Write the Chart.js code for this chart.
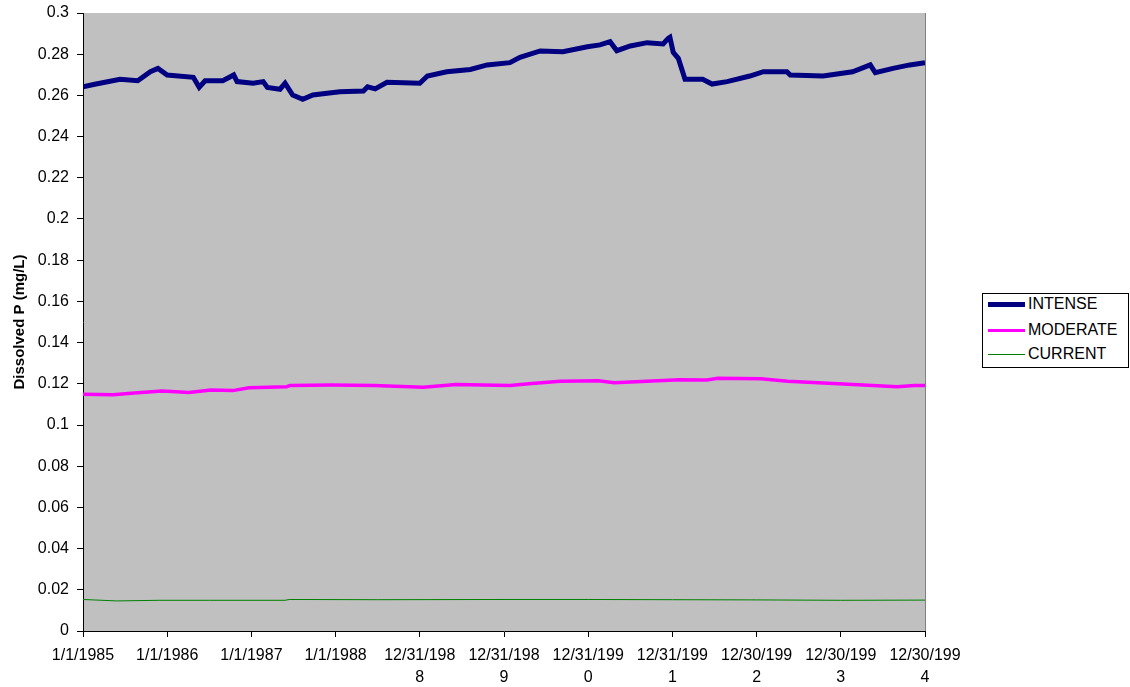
<!DOCTYPE html>
<html>
<head>
<meta charset="utf-8">
<script src="https://cdn.jsdelivr.net/npm/chart.js@4/dist/chart.umd.min.js"></script>
<style>
  html, body { margin: 0; padding: 0; background: #fff; }
  #wrap { position: relative; width: 1130px; height: 687px; }
  #legend {
    position: absolute; left: 982px; top: 293px; width: 145px; height: 73px;
    border: 1px solid #000; background: #fff;
    font-family: "Liberation Sans", Arial, sans-serif; font-size: 16px; color: #000;
  }
  .row { position: absolute; left: 0; height: 20px; display: flex; align-items: center; }
  .sw { width: 37px; margin-left: 5px; margin-right: 3px; }
</style>
</head>
<body>
<div id="wrap">
  <canvas id="c" width="1130" height="687"></canvas>
  <div id="legend"></div>
</div>
<script>
// X positions are years elapsed since 1/1/1985
const tickLabels = ["1/1/1985", "1/1/1986", "1/1/1987", "1/1/1988",
  ["12/31/198", "8"], ["12/31/198", "9"], ["12/31/199", "0"], ["12/31/199", "1"],
  ["12/30/199", "2"], ["12/30/199", "3"], ["12/30/199", "4"]];

const intenseX = [0, 0.14, 0.44, 0.65, 0.80, 0.89, 1.00, 1.31, 1.38, 1.45, 1.66, 1.79, 1.83, 2.02, 2.14, 2.19,
  2.34, 2.40, 2.49, 2.61, 2.73, 2.90, 3.05, 3.33, 3.38, 3.47, 3.61, 4.00, 4.09, 4.32, 4.60, 4.80, 5.07, 5.19,
  5.43, 5.70, 5.99, 6.14, 6.26, 6.34, 6.50, 6.70, 6.89, 6.95, 6.97, 7.01, 7.07, 7.15, 7.36, 7.47, 7.65, 7.92,
  8.08, 8.36, 8.40, 8.79, 9.14, 9.35, 9.41, 9.62, 9.82, 10.00];
const intenseY = [0.2642, 0.2654, 0.2678, 0.2671, 0.2715, 0.2731, 0.2699, 0.2688, 0.2639, 0.2671, 0.2671, 0.2699,
  0.2667, 0.2659, 0.2667, 0.2639, 0.2630, 0.2659, 0.2602, 0.2581, 0.2602, 0.2610, 0.2618, 0.2621, 0.2642, 0.2632,
  0.2664, 0.2659, 0.2694, 0.2715, 0.2726, 0.2748, 0.2759, 0.2785, 0.2816, 0.2812, 0.2836, 0.2845, 0.2861, 0.2817,
  0.2840, 0.2856, 0.2850, 0.2877, 0.2882, 0.2809, 0.2780, 0.2678, 0.2678, 0.2655, 0.2667, 0.2694, 0.2715, 0.2715,
  0.2699, 0.2694, 0.2715, 0.2748, 0.2710, 0.2731, 0.2748, 0.2759];

const moderateX = [0, 0.36, 0.61, 0.94, 1.26, 1.52, 1.78, 1.97, 2.42, 2.46, 2.95, 3.46, 4.04, 4.43, 5.07, 5.33,
  5.67, 6.12, 6.31, 6.76, 7.08, 7.41, 7.54, 8.05, 8.37, 9.03, 9.67, 9.87, 10.00];
const moderateY = [0.1149, 0.1147, 0.1155, 0.1165, 0.1158, 0.1170, 0.1167, 0.1181, 0.1186, 0.1192, 0.1194, 0.1192,
  0.1183, 0.1196, 0.1192, 0.1202, 0.1212, 0.1215, 0.1205, 0.1213, 0.1220, 0.1218, 0.1227, 0.1224, 0.1212, 0.1199,
  0.1186, 0.1192, 0.1192];

const currentX = [0, 0.4, 0.9, 1.5, 2.4, 2.45, 3.5, 5.0, 6.0, 7.0, 8.0, 9.0, 10.0];
const currentY = [0.0153, 0.0146, 0.0149, 0.0149, 0.0149, 0.0153, 0.0152, 0.0153, 0.0153, 0.0152, 0.0151, 0.0149, 0.0150];

const seriesNames = ["INTENSE", "MODERATE", "CURRENT"];
const seriesColors = ["#000080", "#FF00FF", "#008000"];
const seriesWidths = [5, 3.5, 1];

function pts(xs, ys) { return xs.map((x, i) => ({ x: x, y: ys[i] })); }

const FONT = '"Liberation Sans", Arial, sans-serif';

const bgPlugin = {
  id: 'plotBg',
  beforeDraw(chart) {
    const { ctx, chartArea: a } = chart;
    ctx.save();
    ctx.fillStyle = '#C0C0C0';
    ctx.fillRect(a.left, a.top, a.right - a.left, a.bottom - a.top);
    ctx.strokeStyle = '#808080';
    ctx.lineWidth = 1;
    ctx.beginPath();
    ctx.moveTo(a.right + 0.5, a.top);
    ctx.lineTo(a.right + 0.5, a.bottom);
    ctx.stroke();
    ctx.restore();
  }
};

const seriesData = [pts(intenseX, intenseY), pts(moderateX, moderateY), pts(currentX, currentY)];

new Chart(document.getElementById('c'), {
  type: 'line',
  data: {
    datasets: seriesNames.map((n, i) => ({
      label: n,
      data: seriesData[i],
      borderColor: seriesColors[i],
      backgroundColor: seriesColors[i],
      borderWidth: seriesWidths[i],
      pointRadius: 0,
      tension: 0,
      fill: false
    })).reverse()
  },
  options: {
    responsive: false,
    animation: false,
    layout: { padding: { top: 13, right: 205, left: 0, bottom: 0 } },
    plugins: { legend: { display: false }, tooltip: { enabled: false } },
    scales: {
      x: {
        type: 'linear', min: 0, max: 10,
        afterFit(s) { s.height = 56; s.paddingLeft = 0; s.paddingRight = 0; },
        afterBuildTicks(s) { s.ticks = tickLabels.map((_, i) => ({ value: i })); },
        ticks: {
          stepSize: 1, autoSkip: false, maxRotation: 0, color: '#000', padding: 7,
          font: { family: FONT, size: 16, lineHeight: 1.4 },
          callback: (v) => tickLabels[Math.round(v)]
        },
        grid: { drawOnChartArea: false, drawTicks: true, tickLength: 6, color: '#000' },
        border: { color: '#000', width: 1 }
      },
      y: {
        min: 0, max: 0.3,
        afterFit(s) { s.width = 83; s.paddingTop = 0; s.paddingBottom = 0; },
        ticks: {
          stepSize: 0.02, color: '#000', padding: 8,
          font: { family: FONT, size: 16 },
          callback: (v) => parseFloat(v.toFixed(2)).toString()
        },
        grid: { drawOnChartArea: false, drawTicks: true, tickLength: 6, color: '#000' },
        border: { color: '#000', width: 1 },
        title: {
          display: true, text: 'Dissolved P (mg/L)', color: '#000',
          font: { family: FONT, size: 15, weight: 'bold', lineHeight: 1.2 },
          padding: { top: 11, bottom: 0 }
        }
      }
    }
  },
  plugins: [bgPlugin]
});

// HTML legend
const lg = document.getElementById('legend');
const rowTops = [0, 26, 50];
seriesNames.forEach((n, i) => {
  const r = document.createElement('div');
  r.className = 'row';
  r.style.top = rowTops[i] + 'px';
  const sw = document.createElement('div');
  sw.className = 'sw';
  sw.style.height = '0';
  sw.style.borderTop = seriesWidths[i] + 'px solid ' + seriesColors[i];
  const t = document.createElement('span');
  t.textContent = n;
  r.appendChild(sw); r.appendChild(t);
  lg.appendChild(r);
});
</script>
</body>
</html>
